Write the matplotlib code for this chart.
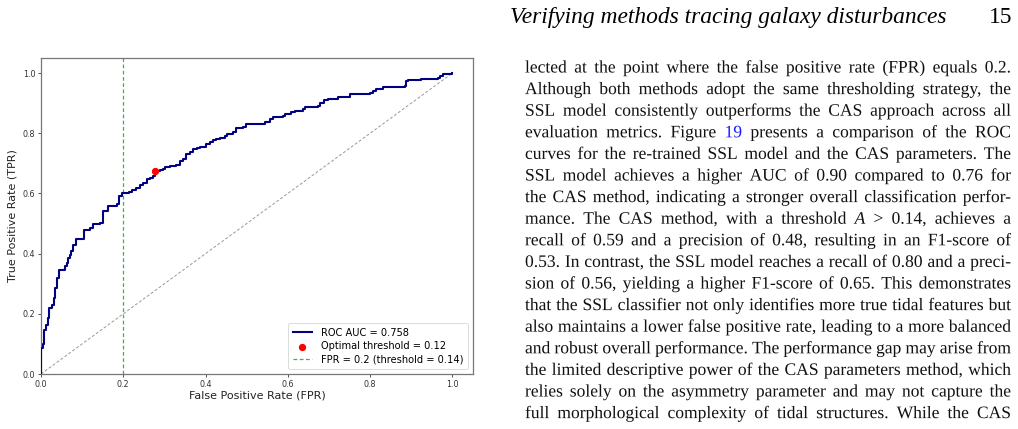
import matplotlib
matplotlib.use("Agg")
import matplotlib.pyplot as plt
from matplotlib.textpath import TextPath, text_to_path
from matplotlib.font_manager import FontProperties
from matplotlib.patches import PathPatch
from matplotlib.transforms import Affine2D

# ---------------- data ----------------
fpr = [0.0, 0.0, 0.006, 0.008, 0.012, 0.016, 0.020, 0.026, 0.031, 0.034, 0.038,
       0.044, 0.053, 0.058, 0.062, 0.066, 0.070, 0.074, 0.078, 0.085, 0.094,
       0.104, 0.119, 0.127, 0.143, 0.150, 0.163, 0.185, 0.189, 0.197, 0.215,
       0.220, 0.232, 0.240, 0.249, 0.257, 0.264, 0.273, 0.278, 0.289, 0.297,
       0.301, 0.313, 0.329, 0.337, 0.345, 0.352, 0.362, 0.370, 0.378, 0.386,
       0.402, 0.410, 0.418, 0.426, 0.434, 0.447, 0.451, 0.467, 0.475, 0.491,
       0.499, 0.540, 0.544, 0.556, 0.564, 0.588, 0.592, 0.608, 0.617, 0.637,
       0.641, 0.653, 0.673, 0.677, 0.689, 0.697, 0.721, 0.726, 0.750, 0.799,
       0.807, 0.815, 0.831, 0.884, 0.888, 0.892, 0.924, 0.964, 0.969, 0.977,
       1.0]
tpr = [0.0, 0.087, 0.099, 0.147, 0.163, 0.186, 0.219, 0.230, 0.252, 0.286, 0.319,
       0.347, 0.347, 0.358, 0.369, 0.386, 0.397, 0.408, 0.430, 0.447, 0.450,
       0.480, 0.486, 0.497, 0.502, 0.540, 0.558, 0.565, 0.592, 0.600, 0.605,
       0.611, 0.619, 0.627, 0.636, 0.647, 0.652, 0.658, 0.676, 0.678, 0.682,
       0.687, 0.691, 0.695, 0.708, 0.713, 0.730, 0.736, 0.747, 0.752, 0.754,
       0.763, 0.771, 0.778, 0.782, 0.783, 0.791, 0.799, 0.805, 0.819, 0.822,
       0.830, 0.831, 0.839, 0.847, 0.854, 0.856, 0.863, 0.869, 0.874, 0.880,
       0.886, 0.888, 0.891, 0.902, 0.910, 0.915, 0.919, 0.922, 0.932, 0.933,
       0.941, 0.946, 0.954, 0.956, 0.974, 0.978, 0.980, 0.982, 0.991, 0.997,
       1.0]
roc_auc = 0.758
opt_fpr = [0.278]
opt_tpr = [0.676]
opt_threshold = 0.12
fpr_cut = 0.2
cut_threshold = 0.14
ticks = [0.0, 0.2, 0.4, 0.6, 0.8, 1.0]
tick_labels = ["0.0", "0.2", "0.4", "0.6", "0.8", "1.0"]

header_title = "Verifying methods tracing galaxy disturbances"
page_number = "15"
body_lines = [
    "lected at the point where the false positive rate (FPR) equals 0.2.",
    "Although both methods adopt the same thresholding strategy, the",
    "SSL model consistently outperforms the CAS approach across all",
    "evaluation metrics. Figure {b}19 presents a comparison of the ROC",
    "curves for the re-trained SSL model and the CAS parameters. The",
    "SSL model achieves a higher AUC of 0.90 compared to 0.76 for",
    "the CAS method, indicating a stronger overall classification perfor-",
    "mance. The CAS method, with a threshold {i}A > 0.14, achieves a",
    "recall of 0.59 and a precision of 0.48, resulting in an F1-score of",
    "0.53. In contrast, the SSL model reaches a recall of 0.80 and a preci-",
    "sion of 0.56, yielding a higher F1-score of 0.65. This demonstrates",
    "that the SSL classifier not only identifies more true tidal features but",
    "also maintains a lower false positive rate, leading to a more balanced",
    "and robust overall performance. The performance gap may arise from",
    "the limited descriptive power of the CAS parameters method, which",
    "relies solely on the asymmetry parameter and may not capture the",
    "full morphological complexity of tidal structures. While the CAS",
]

# ---------------- figure ----------------
W, H = 1018, 429
fig = plt.figure(figsize=(W / 100, H / 100), dpi=100)
fig.patch.set_facecolor("white")

ax = fig.add_axes([41 / W, 1 - 374 / H, 432 / W, 316 / H])
ax.plot(fpr, tpr, drawstyle="steps-post", color="#000080", lw=1.5,
        label=f"ROC AUC = {roc_auc:.3f}", zorder=3)
ax.plot([0, 1], [0, 1], ls=(0, (3, 2)), color="#999999", lw=0.7, zorder=1)
ax.axvline(fpr_cut, color="#3fb34a", ls=(0, (3, 2)), lw=0.9,
           label=f"FPR = {fpr_cut} (threshold = {cut_threshold:.2f})", zorder=2)
ax.scatter(opt_fpr, opt_tpr, color="red", s=18, zorder=4,
           label=f"Optimal threshold = {opt_threshold:.2f}")
ax.set_xlim(0, 1.05)
ax.set_ylim(0, 1.05)
ax.set_xticks(ticks)
ax.set_xticklabels(tick_labels)
ax.set_yticks(ticks)
ax.set_yticklabels(tick_labels)
ax.tick_params(labelsize=5.8, length=2.5, width=0.6, pad=1.5, colors="#333333")
for s in ax.spines.values():
    s.set_color("#777777")
    s.set_linewidth(0.9)
ax.set_xlabel("False Positive Rate (FPR)", fontsize=8, labelpad=1.5, color="#222222")
ax.set_ylabel("True Positive Rate (TPR)", fontsize=8, labelpad=4, color="#222222")

h, l = ax.get_legend_handles_labels()
order = [0, 2, 1]
leg = ax.legend([h[i] for i in order], [l[i] for i in order], loc="lower right",
                fontsize=7.1, frameon=True, borderpad=0.45, labelspacing=0.35,
                handlelength=2.0, handletextpad=0.9, borderaxespad=0.5)
leg.get_frame().set_edgecolor("#cccccc")
leg.get_frame().set_linewidth(0.6)

# ---------------- page text ----------------
serif = "Liberation Serif"
fig.text(510 / W, 1 - 23 / H, header_title, fontsize=16.9, style="italic",
         family=serif, va="baseline", ha="left")
fig.text(1012 / W, 1 - 23 / H, page_number, fontsize=16.9,
         family=serif, va="baseline", ha="right")

# justified body text, drawn as glyph outlines so every word shares one baseline
left_px, right_px = 525.0, 1011.0
base0, step = 72.5, 21.6
fs = 12.6
pt2px = fig.dpi / 72.0
prop_n = FontProperties(family=serif, size=fs)
prop_i = FontProperties(family=serif, size=fs, style="italic")
for k, line in enumerate(body_lines):
    items = []
    for w in line.split(" "):
        prop, col = prop_n, "#111111"
        if w.startswith("{b}"):
            w, col = w[3:], "#1a1aff"
        elif w.startswith("{i}"):
            w, prop = w[3:], prop_i
        wpt, _, _ = text_to_path.get_text_width_height_descent(w, prop, ismath=False)
        items.append((w, prop, col, wpt * pt2px))
    total = sum(it[3] for it in items)
    gap = (right_px - left_px - total) / max(len(items) - 1, 1)
    x = left_px
    yb = H - (base0 + k * step)
    for w, prop, col, wd in items:
        tp = TextPath((0, 0), w, prop=prop)
        patch = PathPatch(tp, facecolor=col, edgecolor="none", lw=0,
                          transform=Affine2D().scale(pt2px).translate(x, yb))
        fig.add_artist(patch)
        x += wd + gap

fig.savefig("out.png", dpi=100)
